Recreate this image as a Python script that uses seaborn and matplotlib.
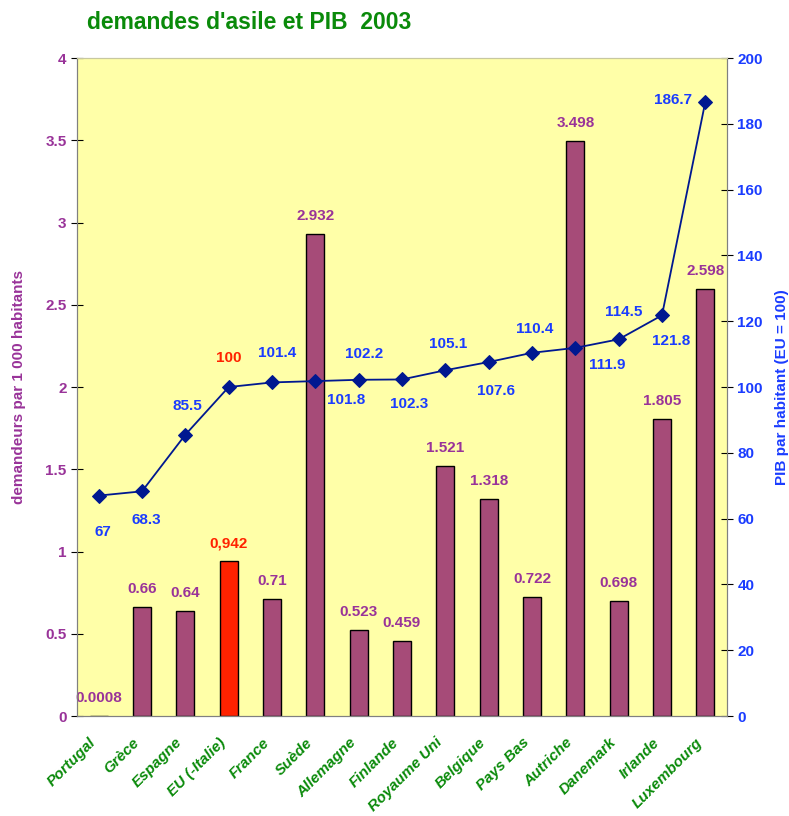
import numpy as np
import pandas as pd
import matplotlib
matplotlib.use('Agg')
import matplotlib.pyplot as plt
import matplotlib.transforms as mtransforms
import seaborn as sns

# data
pays = ['Portugal', 'Grèce', 'Espagne', 'EU (-Italie)', 'France', 'Suède', 'Allemagne',
        'Finlande', 'Royaume Uni', 'Belgique', 'Pays Bas', 'Autriche', 'Danemark',
        'Irlande', 'Luxembourg']
demandeurs = [0.0008, 0.66, 0.64, 0.942, 0.71, 2.932, 0.523, 0.459, 1.521, 1.318,
              0.722, 3.498, 0.698, 1.805, 2.598]
demandeurs_txt = ['0.0008', '0.66', '0.64', '0,942', '0.71', '2.932', '0.523', '0.459',
                  '1.521', '1.318', '0.722', '3.498', '0.698', '1.805', '2.598']
pib = [67, 68.3, 85.5, 100, 101.4, 101.8, 102.2, 102.3, 105.1, 107.6, 110.4, 111.9,
       114.5, 121.8, 186.7]

# label offsets in pixels (x right, y up) - measured by eye on the original
pib_off = [(4, -36), (4, -29), (2, 29), (0, 29), (5, 29), (31, -19), (5, 26), (7, -25),
           (3, 26), (7, -29), (3, 24), (32, -17), (5, 27), (9, -26), (-32, 2)]

purple = '#993399'
blue = '#1A3CFF'
green = '#0A8A0A'
bar_col = '#A64B78'
red = '#FF2200'

sns.set_style('white')
plt.rcParams['font.family'] = ['Liberation Sans', 'DejaVu Sans']

df = pd.DataFrame({'pays': pays, 'demandeurs': demandeurs, 'pib': pib})
colors = [red if p == 'EU (-Italie)' else bar_col for p in pays]

fig = plt.figure(figsize=(7.89, 8.16), dpi=100)
ax = fig.add_axes([0.0976, 0.1225, 0.8238, 0.8064])
ax.set_facecolor('#FFFFA8')

sns.barplot(data=df, x='pays', y='demandeurs', hue='pays', palette=colors, legend=False,
            width=0.42, edgecolor='black', linewidth=1, saturation=1, ax=ax)
ax.set_ylim(0, 4)
ax.set_xlim(-0.5, len(pays) - 0.5)
ax.set_yticks(np.arange(0, 4.01, 0.5))
ax.set_yticklabels(['0', '0.5', '1', '1.5', '2', '2.5', '3', '3.5', '4'])
ax.set_xlabel('')
ax.set_ylabel('demandeurs par 1 000 habitants', color=purple, fontweight='bold',
              fontsize=11, labelpad=14)

for i, (v, t) in enumerate(zip(demandeurs, demandeurs_txt)):
    c = red if pays[i] == 'EU (-Italie)' else purple
    ax.annotate(t, (i, v), xytext=(0, 18), textcoords='offset pixels',
                ha='center', va='center', color=c, fontweight='bold', fontsize=11)

ax2 = ax.twinx()
sns.lineplot(x=np.arange(len(pays)), y=pib, color='#001890', marker='D', markersize=7,
             markeredgecolor='#001890', linewidth=1.3, ax=ax2)
ax2.set_ylim(0, 200)
ax2.set_yticks(np.arange(0, 201, 20))
ax2.set_ylabel('PIB par habitant (EU = 100)', color=blue, fontweight='bold', fontsize=11,
               labelpad=9)
for i, v in enumerate(pib):
    c = red if pays[i] == 'EU (-Italie)' else blue
    ax2.annotate(f'{v:g}', (i, v), xytext=pib_off[i], textcoords='offset pixels',
                 ha='center', va='center', color=c, fontweight='bold', fontsize=11)

for a in (ax, ax2):
    for s in a.spines.values():
        s.set_color('#808080')
    a.spines['top'].set_color('#C8C8A0')

ax.tick_params(axis='y', direction='inout', length=8, colors='black', labelcolor=purple,
               labelsize=11)
ax2.tick_params(axis='y', direction='inout', length=8, colors='black', labelcolor=blue,
                labelsize=11)
for lbl in ax.get_yticklabels() + ax2.get_yticklabels():
    lbl.set_fontweight('bold')

# category labels, tick marks between categories
ax.set_xticks(np.arange(len(pays)))
ax.set_xticklabels(pays, rotation=45, ha='right', rotation_mode='anchor', color=green,
                   fontweight='bold', fontstyle='italic', fontsize=11)
ax.tick_params(axis='x', which='major', length=0, pad=14)
ax.set_xticks(np.arange(-0.5, len(pays)), minor=True)
ax.tick_params(axis='x', which='minor', direction='inout', length=7, color='black')
shift = mtransforms.ScaledTranslation(-10 / 100, 0, fig.dpi_scale_trans)
for lbl in ax.get_xticklabels():
    lbl.set_transform(lbl.get_transform() + shift)

fig.text(0.11, 0.972, "demandes d'asile et PIB  2003", color=green, fontweight='bold',
         fontsize=16.5, ha='left', va='center')

fig.savefig('out.png', dpi=100)
